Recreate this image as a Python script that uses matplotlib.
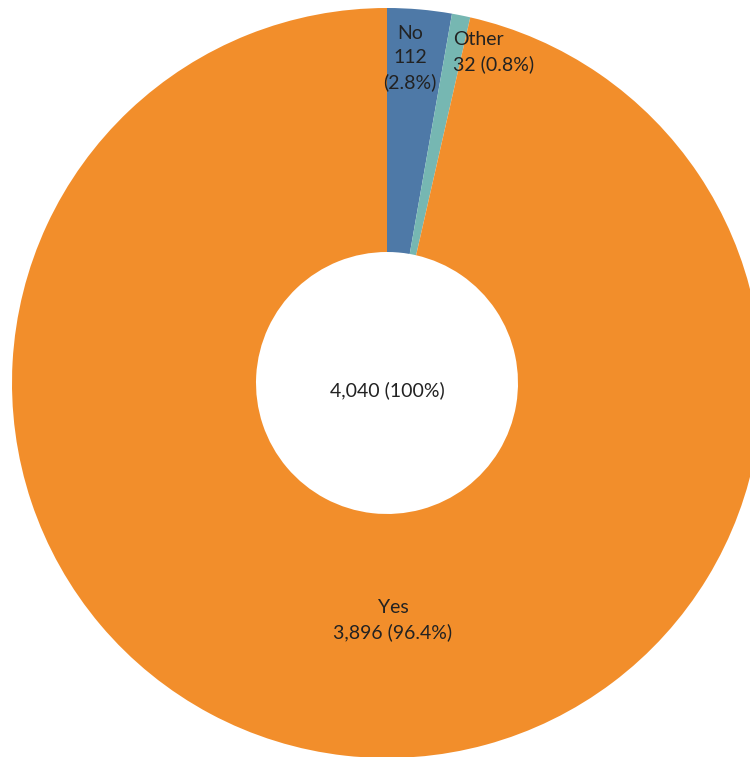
import matplotlib
matplotlib.use("Agg")
import matplotlib.pyplot as plt

# Responses
categories = ["No", "Other", "Yes"]
counts = [112, 32, 3896]
colors = ["#4E79A7", "#76B7B2", "#F28E2B"]
total = sum(counts)

plt.rcParams["font.family"] = ["Lato", "DejaVu Sans"]

W, H = 750, 757
fig = plt.figure(figsize=(W / 100, H / 100), dpi=100)
ax = fig.add_axes([0, 0, 1, 1])

cx, cy = 387, H - 383
R, r_in = 375, 131
ax.pie(counts, colors=colors, startangle=90, counterclock=False,
       center=(cx, cy), radius=R,
       wedgeprops=dict(width=R - r_in, edgecolor="none"), frame=True)
ax.set_xlim(0, W)
ax.set_ylim(0, H)
ax.axis("off")

txt = dict(color="#222222", fontsize=14)
pct = [c / total * 100 for c in counts]

ax.text(410, H - 58, f"{categories[0]}\n{counts[0]}\n({pct[0]:.1f}%)",
        ha="center", va="center", linespacing=1.5, **txt)
ax.text(453, H - 52, f"{categories[1]}\n{counts[1]} ({pct[1]:.1f}%)",
        ha="left", va="center", linespacing=1.5, **txt)
ax.text(393, H - 620, f"{categories[2]}\n{counts[2]:,} ({pct[2]:.1f}%)",
        ha="center", va="center", linespacing=1.5, **txt)
ax.text(cx, H - 390, f"{total:,} (100%)", ha="center", va="center", **txt)

fig.savefig("out.png", dpi=100)
